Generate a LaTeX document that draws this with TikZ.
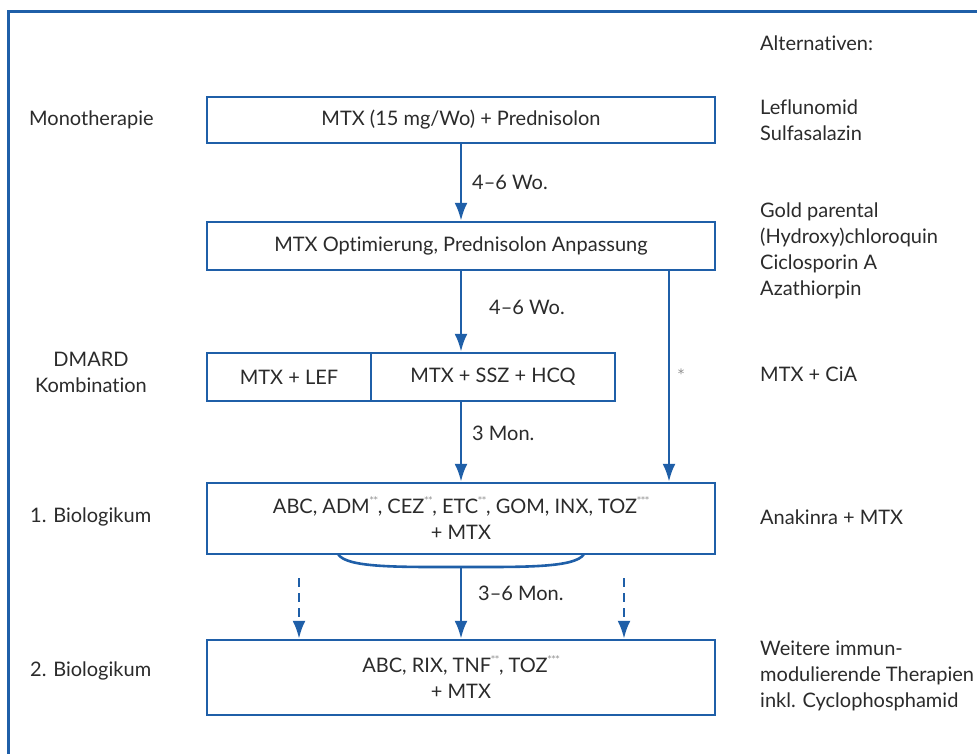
\documentclass[tikz,border=0pt]{standalone}
\usepackage{fontspec}
\setmainfont{Lato}[Ligatures=NoCommon]
\newfontfamily\starfont{DejaVu Sans}
\usetikzlibrary{arrows.meta}
\definecolor{fblue}{HTML}{1F5FA8}
\definecolor{ftext}{HTML}{2B2B2B}
\definecolor{stargray}{HTML}{8A8A8A}
\newcommand\supstar[1]{\raisebox{0.55em}{\color{stargray}\starfont\fontsize{8}{8}\selectfont #1}}
\tikzset{
  box/.style={draw=fblue, line width=2.4pt, minimum width=508pt, inner sep=0pt, align=center, text=ftext},
  lbl/.style={text=ftext, inner sep=0pt, align=left},
  flow/.style={draw=fblue, line width=2.8pt, -{Latex[length=18pt,width=13pt]}},
  dflow/.style={flow, dash pattern=on 9pt off 6pt},
  plain/.style={draw=fblue, line width=2.6pt},
}
\begin{document}
\begin{tikzpicture}[x=1pt,y=-1pt, font=\fontsize{20}{26}\selectfont]
\useasboundingbox (0,0) rectangle (977,754);
\fill[white] (0,0) rectangle (977,754);
% frame
\draw[fblue, line width=3pt] (990,12) -- (8,12) -- (8,770);
% boxes
\node[box, minimum height=46pt] (b1) at (461,120) {MTX (15 mg/Wo) + Prednisolon};
\node[box, minimum height=48pt] (b2) at (461,246) {MTX Optimierung, Prednisolon Anpassung};
\node[box, minimum width=164pt, minimum height=48pt] (b3l) at (289,377) {MTX + LEF};
\node[box, minimum width=244pt, minimum height=48pt] (b3r) at (493,377) {MTX + SSZ + HCQ};
\node[box, minimum height=71pt] (b4) at (461,518.5) {ABC, ADM\supstar{**}, CEZ\supstar{**}, ETC\supstar{**}, GOM, INX, TOZ\supstar{***}\\+ MTX};
\node[box, minimum height=75pt] (b5) at (461,677.5) {ABC, RIX, TNF\supstar{**}, TOZ\supstar{***}\\+ MTX};
% coordinates
\coordinate (xr) at (669,0);
\coordinate (bl) at (338,554);
\coordinate (bm) at (461,567);
\coordinate (br) at (584,554);
\coordinate (dl) at (299,578);
\coordinate (dr) at (624,578);
% connectors
\draw[flow] (b1) -- (b2);
\draw[flow] (b2) -- (b2.south |- b3r.north);
\draw[flow] (b3r.south -| b2.south) -- (b4);
\draw[flow] (b2.south -| xr) -- (b4.north -| xr);
\draw[plain] (bl) .. controls (346,568) and (400,567) .. (bm) .. controls (522,567) and (576,568) .. (br);
\draw[flow] (bm) -- (b5);
\draw[dflow] (dl) -- (b5.north -| dl);
\draw[dflow] (dr) -- (b5.north -| dr);
% connector labels
\node[lbl, anchor=west] (t1) at (472,182) {4–6 Wo.};
\node[lbl, anchor=west] (t2) at (489,307) {4–6 Wo.};
\node[lbl, anchor=west] (t3) at (472,433) {3 Mon.};
\node[lbl, anchor=west] (t4) at (478,593) {3–6 Mon.};
\node[text=stargray, inner sep=0pt, font=\starfont\fontsize{13}{13}\selectfont] (t5) at (681,374) {*};
% left labels
\node[lbl, anchor=west] (l1) at (29,120) {Monotherapie};
\node[lbl, align=center] (l2) at (91,372) {DMARD\\Kombination};
\node[lbl, anchor=west] (l3) at (30,517) {1. Biologikum};
\node[lbl, anchor=west] (l4) at (30,671) {2. Biologikum};
% right labels
\node[lbl, anchor=west] (r0) at (760,43) {Alternativen:};
\node[lbl, anchor=west] (r1) at (760,120) {Leflunomid\\Sulfasalazin};
\node[lbl, anchor=west] (r2) at (760,251) {Gold parental\\(Hydroxy)chloroquin\\Ciclosporin A\\Azathiorpin};
\node[lbl, anchor=west] (r3) at (760,374) {MTX + CiA};
\node[lbl, anchor=west] (r4) at (760,517) {Anakinra + MTX};
\node[lbl, anchor=west] (r5) at (760,676) {Weitere immun-\\modulierende Therapien\\inkl. Cyclophosphamid};
\end{tikzpicture}
\end{document}
